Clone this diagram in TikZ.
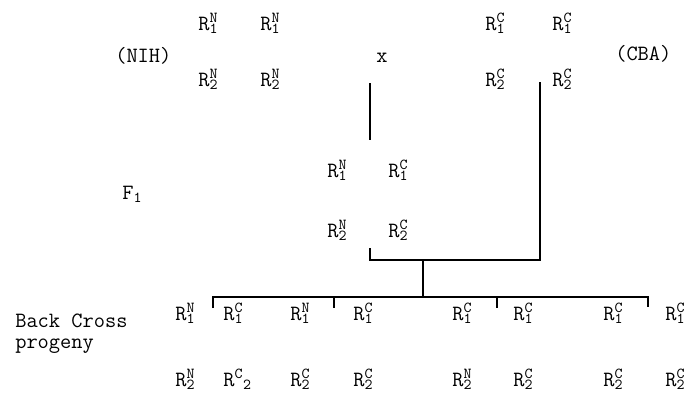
\documentclass[tikz,border=0pt]{standalone}
\usepackage{fontspec}
\newcommand{\Rg}[2]{R\rlap{\textsuperscript{#1}}\textsubscript{#2}}

\begin{document}
\begin{tikzpicture}[x=0.025cm, y=-0.025cm,
    lbl/.style={anchor=base west, inner sep=0pt,
      font=\ttfamily\fontsize{15.5}{18}\selectfont\addfontfeatures{FakeBold=1.5}},
    wire/.style={line width=1.5pt}]
      \useasboundingbox (0, 0) rectangle (694, 396);
      % Parents:
      \node[lbl](P1) at (115, 62){(NIH)};
      \node[lbl](T1) at (198, 30){\Rg{N}{1}};
      \node[lbl](T2) at (260, 30){\Rg{N}{1}};
      \node[lbl](T3) at (198, 86){\Rg{N}{2}};
      \node[lbl](T4) at (260, 86){\Rg{N}{2}};
      \node[lbl](X) at (376, 62){x};
      \node[lbl](T5) at (485, 30){\Rg{C}{1}};
      \node[lbl](T6) at (552, 30){\Rg{C}{1}};
      \node[lbl](T7) at (485, 86){\Rg{C}{2}};
      \node[lbl](T8) at (552, 86){\Rg{C}{2}};
      \node[lbl](P2) at (615, 60){(CBA)};
      % F1:
      \node[lbl](F) at (122, 199){F\textsubscript{1}};
      \node[lbl](M1) at (327, 177){\Rg{N}{1}};
      \node[lbl](M2) at (388, 177){\Rg{C}{1}};
      \node[lbl](M3) at (327, 237){\Rg{N}{2}};
      \node[lbl](M4) at (388, 237){\Rg{C}{2}};
      % Back cross:
      \node[lbl](B) at (15, 327){Back Cross};
      \node[lbl](B') at (15, 348){progeny};
      \node[lbl](B1) at (175, 320){\Rg{N}{1}};
      \node[lbl](B2) at (223, 320){\Rg{C}{1}};
      \node[lbl](B3) at (290, 320){\Rg{N}{1}};
      \node[lbl](B4) at (353, 320){\Rg{C}{1}};
      \node[lbl](B5) at (452, 320){\Rg{C}{1}};
      \node[lbl](B6) at (513, 320){\Rg{C}{1}};
      \node[lbl](B7) at (603, 320){\Rg{C}{1}};
      \node[lbl](B8) at (665, 320){\Rg{C}{1}};
      \node[lbl](B9) at (175, 386){\Rg{N}{2}};
      \node[lbl](B10) at (223, 386){R\textsuperscript{C}\textsubscript{2}};
      \node[lbl](B11) at (290, 386){\Rg{C}{2}};
      \node[lbl](B12) at (353, 386){\Rg{C}{2}};
      \node[lbl](B13) at (452, 386){\Rg{N}{2}};
      \node[lbl](B14) at (513, 386){\Rg{C}{\addfontfeatures{FakeBold=4}2}};
      \node[lbl](B15) at (603, 386){\Rg{C}{2}};
      \node[lbl](B16) at (665, 386){\Rg{C}{2}};
      % Lines:
      \coordinate (L1) at (370, 83);
      \coordinate (L2) at (370, 140);
      \coordinate (L3) at (540, 82);
      \coordinate (L4) at (370, 248);
      \coordinate (L5) at (423, 260);
      \coordinate (L6) at (423, 297);
      \coordinate (L7) at (213, 297);
      \coordinate (L8) at (648, 297);
      \draw[wire] (L1) -- (L2);
      \draw[wire] (L4) |- (L3 |- L5) -- (L3);
      \draw[wire] (L5) -- (L6);
      \draw[wire] (L7 |- 0, 308) -- (L7) -- (L8) -- ++(0, 10);
      \foreach \i in {334, 497}
        \draw[wire] (\i, 297) -- (\i, 308);
    \end{tikzpicture}
\end{document}
